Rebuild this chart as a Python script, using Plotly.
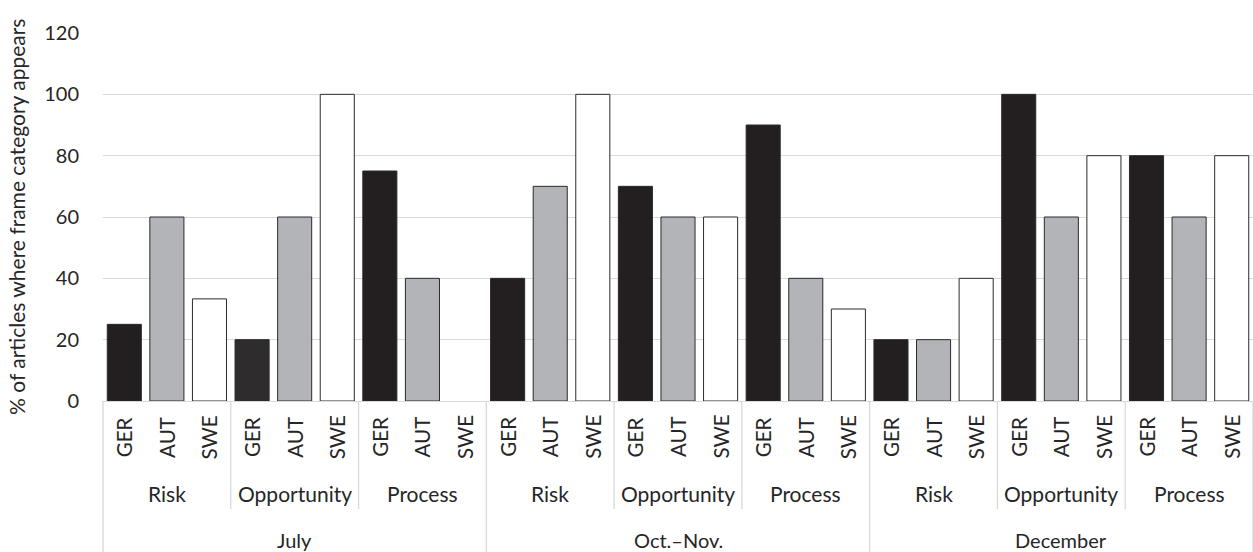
import plotly.graph_objects as go

months = ["July", "Oct.\u2013Nov.", "December"]
frames = ["Risk", "Opportunity", "Process"]
countries = ["GER", "AUT", "SWE"]

# values per country, ordered month-major then frame (Risk, Opportunity, Process)
ger = [25, 20, 75, 40, 70, 90, 20, 100, 80]
aut = [60, 60, 40, 70, 60, 40, 20, 60, 60]
swe = [33.3, 100, 0, 100, 60, 30, 40, 80, 80]

y_ticks = [0, 20, 40, 60, 80, 100, 120]

FONT = "Lato"
TXT = "#262626"
ger_colors = ["#231f20"] * 9
ger_colors[1] = "#2e2c2d"

series = {"GER": (ger, ger_colors), "AUT": (aut, "#b3b4b7"), "SWE": (swe, "#ffffff")}

nC = len(countries)
nF = len(frames)
nM = len(months)
n_total = nC * nF * nM

fig = go.Figure()
for ci, c in enumerate(countries):
    vals, col = series[c]
    xs = [g * nC + ci for g in range(nF * nM)]
    fig.add_trace(go.Bar(
        x=xs, y=vals, name=c,
        marker=dict(color=col, line=dict(color="#2b2b2b",
                                         width=[0 if v == 0 else 1 for v in vals])),
        width=0.8, showlegend=False, hoverinfo="y",
    ))

annotations = []
shapes = []
sep_color = "#d9d9d9"
# country labels
for i in range(n_total):
    annotations.append(dict(
        x=i, y=0, xref="x", yref="y", text=countries[i % nC], showarrow=False,
        textangle=-90, xanchor="center", yanchor="middle", yshift=-36,
        font=dict(family=FONT, size=20.5, color=TXT)))
# frame labels
for g in range(nF * nM):
    annotations.append(dict(
        x=g * nC + 1, y=0, xref="x", yref="y", text=frames[g % nF], showarrow=False,
        xanchor="center", yanchor="middle", yshift=-92,
        font=dict(family=FONT, size=21, color=TXT)))
# month labels
for m in range(nM):
    annotations.append(dict(
        x=m * nC * nF + (nC * nF - 1) / 2, y=0, xref="x", yref="y", text=months[m],
        showarrow=False, xanchor="center", yanchor="middle", yshift=-139,
        font=dict(family=FONT, size=20, color=TXT)))

# separators
plot_h = 552 - 33 - 151
for g in range(nF * nM + 1):
    xp = g * nC / n_total
    if g % nF == 0:
        y1 = -151 / plot_h
    else:
        y1 = -108 / plot_h
    shapes.append(dict(type="line", xref="paper", yref="paper", x0=xp, x1=xp,
                       y0=0, y1=y1, line=dict(color=sep_color, width=1.3)))

annotations.append(dict(
    x=0, y=0.5, xref="paper", yref="paper", xshift=-87,
    text="% of articles where frame category appears", showarrow=False,
    textangle=-90, xanchor="center", yanchor="middle",
    font=dict(family=FONT, size=21, color=TXT)))

fig.update_layout(
    width=1253, height=552,
    margin=dict(l=103, r=0, t=33, b=151),
    paper_bgcolor="white", plot_bgcolor="white",
    bargap=0.2,
    annotations=annotations, shapes=shapes,
    xaxis=dict(range=[-0.5, n_total - 0.5], showticklabels=False, showgrid=False,
               zeroline=False, showline=False, ticks=""),
    yaxis=dict(range=[0, 120], tickvals=y_ticks, showgrid=True, gridcolor="#d9d9d9",
               gridwidth=1.3, zeroline=True, zerolinecolor="#d9d9d9", zerolinewidth=1.3,
               showline=False, ticks="", ticklabelstandoff=23,
               tickfont=dict(family=FONT, size=20, color=TXT)),
)

fig.write_html("out.html", config={"displayModeBar": False},
               post_script="document.body.style.margin='0';document.body.style.overflow='hidden';")
